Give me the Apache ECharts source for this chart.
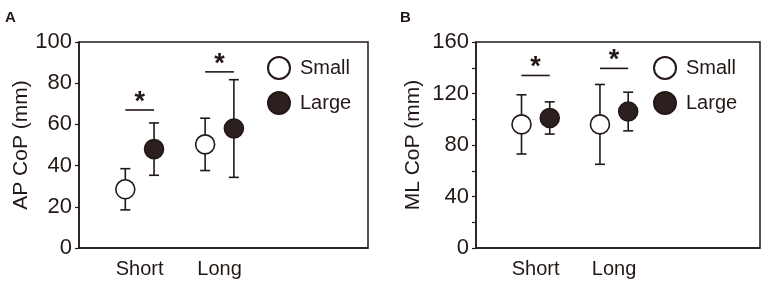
<!DOCTYPE html>
<html>
<head>
<meta charset="utf-8">
<script src="https://cdn.jsdelivr.net/npm/echarts@6/dist/echarts.min.js"></script>
<style>
  html, body {margin: 0; padding: 0; background: #fff;}
  #chart {width: 765px; height: 284px;}
</style>
</head>
<body>
<div id="chart"></div>
<script>
// data
const categories = ['Short', 'Long'];
const groups = ['Small', 'Large'];

const apSmall = [28.5, 50.3];
const apSmallSD = [10, 12.7];
const apLarge = [48, 58];
const apLargeSD = [12.7, 23.7];
const apSig = [67, 85.5];

const mlSmall = [96, 96];
const mlSmallSD = [23, 31];
const mlLarge = [101, 106];
const mlLargeSD = [12.5, 15];
const mlSig = [134, 139.5];

const ink = '#231815';
const dark = '#2b201d';
const font = 'Liberation Sans, Arial, sans-serif';
const OFF = 0.18;

var myChart = echarts.init(document.getElementById('chart'));

function errSeries(name, means, sds, off, idx) {
  return {
    type: 'custom',
    name: name + ' SD',
    xAxisIndex: idx,
    yAxisIndex: idx,
    z: 1,
    silent: true,
    data: means.map((m, i) => [i + off, m, sds[i]]),
    encode: {x: 0, y: 1},
    renderItem: function (params, api) {
      const x = api.value(0), m = api.value(1), e = api.value(2);
      const top = api.coord([x, m + e]);
      const bot = api.coord([x, m - e]);
      const st = {stroke: ink, lineWidth: 1.6};
      return {
        type: 'group',
        children: [
          {type: 'line', shape: {x1: top[0], y1: top[1], x2: bot[0], y2: bot[1]}, style: st},
          {type: 'line', shape: {x1: top[0] - 5, y1: top[1], x2: top[0] + 5, y2: top[1]}, style: st},
          {type: 'line', shape: {x1: bot[0] - 5, y1: bot[1], x2: bot[0] + 5, y2: bot[1]}, style: st}
        ]
      };
    }
  };
}

function dotSeries(name, means, off, idx) {
  const filled = name === 'Large';
  return {
    type: 'scatter',
    name: name,
    xAxisIndex: idx,
    yAxisIndex: idx,
    z: 3,
    symbol: 'circle',
    symbolSize: 19,
    itemStyle: {color: filled ? dark : '#fff', borderColor: ink, borderWidth: 1.6, opacity: 1},
    data: means.map((m, i) => [i + off, m])
  };
}

function sigSeries(levels, idx) {
  return {
    type: 'custom',
    name: 'sig',
    xAxisIndex: idx,
    yAxisIndex: idx,
    silent: true,
    z: 2,
    data: levels.map((lv, i) => [i, lv]),
    encode: {x: 0, y: 1},
    renderItem: function (params, api) {
      const i = api.value(0), lv = api.value(1);
      const a = api.coord([i - OFF, lv]);
      const b = api.coord([i + OFF, lv]);
      return {
        type: 'group',
        children: [
          {type: 'line', shape: {x1: a[0], y1: a[1], x2: b[0], y2: b[1]}, style: {stroke: ink, lineWidth: 1.6}},
          {type: 'text', x: (a[0] + b[0]) / 2, y: a[1] + 6,
            style: {text: '*', fill: ink, font: 'bold 27px ' + font, align: 'center', verticalAlign: 'bottom'}}
        ]
      };
    }
  };
}

function xAxis(idx) {
  return {
    type: 'value',
    gridIndex: idx,
    min: -0.76,
    max: 2.86,
    axisLine: {show: true, onZero: false, lineStyle: {color: ink, width: 1.5}},
    axisTick: {show: false},
    splitLine: {show: false},
    axisLabel: {
      customValues: [0, 1],
      formatter: v => categories[Math.round(v)],
      color: ink, fontFamily: font, fontSize: 20, margin: 11
    }
  };
}

function yAxis(idx, name, max, interval, minor, gap) {
  return {
    type: 'value',
    gridIndex: idx,
    min: 0,
    max: max,
    interval: interval,
    name: name,
    nameLocation: 'middle',
    nameGap: gap,
    nameTextStyle: {color: ink, fontFamily: font, fontSize: 21},
    axisLine: {show: true, onZero: false, lineStyle: {color: ink, width: 1.5}},
    axisTick: {show: true, inside: false, length: 4, lineStyle: {color: ink, width: 1.2}},
    minorTick: {show: minor, splitNumber: 2, length: 4, lineStyle: {color: ink, width: 1.2}},
    splitLine: {show: false},
    axisLabel: {color: ink, fontFamily: font, fontSize: 22, margin: 7}
  };
}

function legend(left) {
  return {
    data: groups,
    orient: 'vertical',
    left: left,
    top: 56,
    padding: 0,
    icon: 'circle',
    itemWidth: 22,
    itemHeight: 22,
    itemGap: 11,
    selectedMode: false,
    textStyle: {color: ink, fontFamily: font, fontSize: 20, padding: [0, 0, 0, 5]}
  };
}

myChart.setOption({
  animation: false,
  title: [
    {text: 'A', left: 5, top: 10, padding: 0, textStyle: {fontFamily: font, fontWeight: 'bold', fontSize: 15, color: ink}},
    {text: 'B', left: 400, top: 10, padding: 0, textStyle: {fontFamily: font, fontWeight: 'bold', fontSize: 15, color: ink}}
  ],
  legend: [legend(267), legend(653)],
  grid: [
    {left: 79, width: 289, top: 42, height: 206, show: true, borderColor: ink, borderWidth: 1.5, backgroundColor: 'transparent'},
    {left: 476, width: 284, top: 42, height: 206, show: true, borderColor: ink, borderWidth: 1.5, backgroundColor: 'transparent'}
  ],
  xAxis: [xAxis(0), xAxis(1)],
  yAxis: [
    yAxis(0, 'AP CoP (mm)', 100, 20, false, 47),
    yAxis(1, 'ML CoP (mm)', 160, 40, true, 52)
  ],
  series: [
    errSeries('Small', apSmall, apSmallSD, -OFF, 0),
    errSeries('Large', apLarge, apLargeSD, OFF, 0),
    dotSeries('Small', apSmall, -OFF, 0),
    dotSeries('Large', apLarge, OFF, 0),
    sigSeries(apSig, 0),
    errSeries('Small', mlSmall, mlSmallSD, -OFF, 1),
    errSeries('Large', mlLarge, mlLargeSD, OFF, 1),
    dotSeries('Small', mlSmall, -OFF, 1),
    dotSeries('Large', mlLarge, OFF, 1),
    sigSeries(mlSig, 1)
  ]
});
</script>
</body>
</html>
